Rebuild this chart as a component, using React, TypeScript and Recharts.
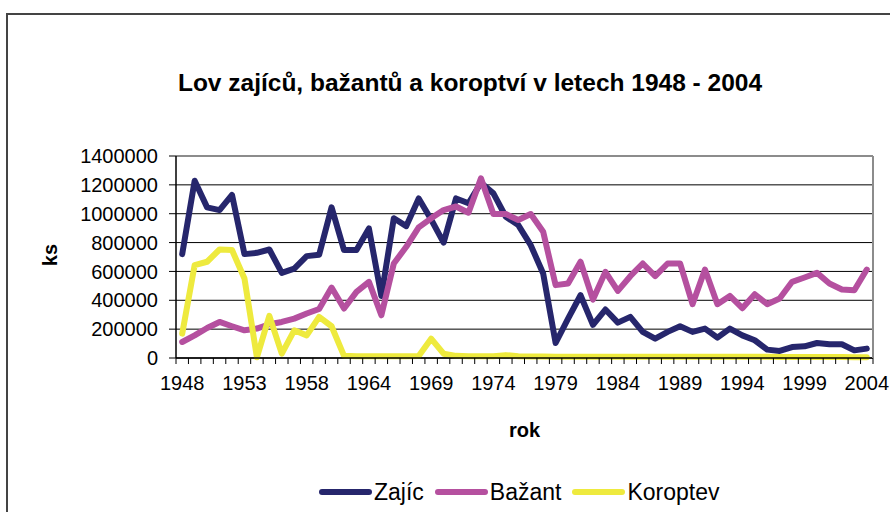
import React from 'react';
import { LineChart, Line, XAxis, YAxis, CartesianGrid, ReferenceLine } from 'recharts';

const YEARS = [
  1948, 1949, 1950, 1951, 1952, 1953, 1954, 1955, 1956, 1957, 1958,
  1960, 1961, 1962, 1963, 1964, 1965, 1966, 1967, 1968, 1969,
  1970, 1971, 1972, 1973, 1974, 1975, 1976, 1977, 1978, 1979,
  1980, 1981, 1982, 1983, 1984, 1985, 1986, 1987, 1988, 1989,
  1990, 1991, 1992, 1993, 1994, 1995, 1996, 1997, 1998, 1999,
  2000, 2001, 2002, 2003, 2004,
];

const ZAJIC = [
  720000, 1229000, 1044000, 1025000, 1130000, 720000, 729000, 752000, 590000, 620000, 706000,
  715000, 1044000, 748000, 748000, 898000, 430000, 968000, 914000, 1106000, 960000,
  800000, 1106000, 1072000, 1215000, 1141000, 979000, 921000, 782000, 586000, 104000,
  273000, 435000, 230000, 336000, 245000, 285000, 181000, 134000, 181000, 220000,
  181000, 204000, 141000, 204000, 157000, 123000, 58000, 49000, 76000, 81000,
  104000, 95000, 95000, 53000, 65000,
];

const BAZANT = [
  111000, 157000, 208000, 250000, 220000, 192000, 204000, 234000, 250000, 273000, 308000,
  340000, 488000, 343000, 458000, 528000, 296000, 655000, 771000, 905000, 968000,
  1025000, 1050000, 1007000, 1245000, 998000, 998000, 956000, 998000, 875000, 505000,
  516000, 667000, 405000, 597000, 465000, 567000, 655000, 567000, 655000, 655000,
  373000, 613000, 373000, 430000, 345000, 442000, 373000, 412000, 528000, 558000,
  590000, 516000, 475000, 470000, 613000,
];

const KOROPTEV = [
  169000, 644000, 667000, 752000, 748000, 551000, 5000, 292000, 30000, 192000, 157000,
  285000, 220000, 15000, 12000, 12000, 12000, 12000, 12000, 14000, 134000,
  30000, 15000, 12000, 12000, 12000, 20000, 12000, 10000, 10000, 9000,
  9000, 9000, 9000, 9000, 9000, 9000, 8000, 8000, 8000, 8000,
  8000, 8000, 8000, 8000, 8000, 8000, 8000, 7000, 7000, 7000,
  7000, 7000, 7000, 6000, 6000,
];

const Y_TICKS = [0, 200000, 400000, 600000, 800000, 1000000, 1200000, 1400000];

const SERIES = [
  { key: 'zajic', name: 'Zajíc', color: '#26266C', values: ZAJIC },
  { key: 'bazant', name: 'Bažant', color: '#B5509F', values: BAZANT },
  { key: 'koroptev', name: 'Koroptev', color: '#EEEA3E', values: KOROPTEV },
];

const data = YEARS.map((y, i) => {
  const row: Record<string, any> = { year: String(y) };
  SERIES.forEach((s) => { row[s.key] = s.values[i]; });
  return row;
});

const FONT = '"Liberation Sans", Arial, Helvetica, sans-serif';
const W = 890;
const H = 512;
const Y_AXIS_W = 176;
const RIGHT_W = 17;
const TOP = 156;
const X_AXIS_H = 154;
const PLOT_W = W - Y_AXIS_W - RIGHT_W;

const XTick = (props: any) => {
  const { x, y, payload, index } = props;
  const bw = PLOT_W / YEARS.length;
  const last = index === YEARS.length - 1;
  return (
    <g>
      <line x1={x - bw / 2} x2={x - bw / 2} y1={y} y2={y + 6} stroke="#000" strokeWidth={1} />
      {last && <line x1={x + bw / 2} x2={x + bw / 2} y1={y} y2={y + 6} stroke="#000" strokeWidth={1} />}
      {index % 5 === 0 && (
        <text x={x} y={y + 32} textAnchor="middle" fontSize={20} fill="#000" fontFamily={FONT}>
          {payload.value}
        </text>
      )}
    </g>
  );
};

export default function App() {
  return (
    <div style={{ position: 'absolute', left: 0, top: 0, width: W, height: H, overflow: 'hidden', background: '#fff', fontFamily: FONT }}>
      <div style={{ position: 'absolute', left: 6, top: 13, width: 1000, height: 1000, borderLeft: '2px solid #444', borderTop: '2px solid #444' }} />
      <div style={{ position: 'absolute', left: 0, width: 940, top: 68, textAlign: 'center', fontSize: 24.5, fontWeight: 'bold', color: '#000', lineHeight: '30px' }}>
        Lov zajíců, bažantů a koroptví v letech 1948 - 2004
      </div>
      <div style={{ position: 'absolute', left: 0, top: 0 }}>
        <LineChart width={W} height={H} data={data} margin={{ top: TOP, right: 0, bottom: 0, left: 0 }}>
          <CartesianGrid horizontal vertical={false} stroke="#000" strokeWidth={1} />
          <XAxis
            dataKey="year"
            scale="band"
            interval={0}
            height={X_AXIS_H}
            tickLine={false}
            tickSize={0}
            tickMargin={0}
            axisLine={{ stroke: '#000', strokeWidth: 1.5 }}
            tick={(p: any) => <XTick {...p} />}
          />
          <YAxis
            domain={[0, 1400000]}
            ticks={Y_TICKS}
            width={Y_AXIS_W}
            tickSize={7}
            tickMargin={11}
            axisLine={{ stroke: '#000', strokeWidth: 1.5 }}
            tickLine={{ stroke: '#000' }}
            tick={{ fontSize: 20, fill: '#000', fontFamily: FONT }}
            interval={0}
          />
          <YAxis
            yAxisId="right"
            orientation="right"
            width={RIGHT_W}
            domain={[0, 1400000]}
            tick={false}
            tickLine={false}
            axisLine={{ stroke: '#8c8c8c', strokeWidth: 2 }}
          />
          <ReferenceLine y={1400000} stroke="#8c8c8c" strokeWidth={2} />
          {SERIES.map((s) => (
            <Line
              key={s.key}
              type="linear"
              dataKey={s.key}
              name={s.name}
              stroke={s.color}
              strokeWidth={6}
              strokeLinejoin="round"
              strokeLinecap="round"
              dot={false}
              activeDot={false}
              isAnimationActive={false}
            />
          ))}
        </LineChart>
      </div>
      <div style={{ position: 'absolute', left: 39, top: 255, width: 40, height: 0 }}>
        <div style={{ position: 'absolute', left: 0, top: -12, transform: 'rotate(-90deg)', fontSize: 20, fontWeight: 'bold', lineHeight: '24px' }}>ks</div>
      </div>
      <div style={{ position: 'absolute', left: Y_AXIS_W, width: PLOT_W, top: 416, textAlign: 'center', fontSize: 20, fontWeight: 'bold', lineHeight: '28px' }}>rok</div>
      <div style={{ position: 'absolute', left: 319, top: 478, display: 'flex', alignItems: 'center', height: 28 }}>
        {SERIES.map((s, i) => (
          <div key={s.key} style={{ display: 'flex', alignItems: 'center', marginLeft: i === 0 ? 0 : 11 }}>
            <div style={{ width: 53, height: 6, borderRadius: 3, background: s.color }} />
            <span style={{ fontSize: 23, marginLeft: 2, lineHeight: '28px' }}>{s.name}</span>
          </div>
        ))}
      </div>
    </div>
  );
}
